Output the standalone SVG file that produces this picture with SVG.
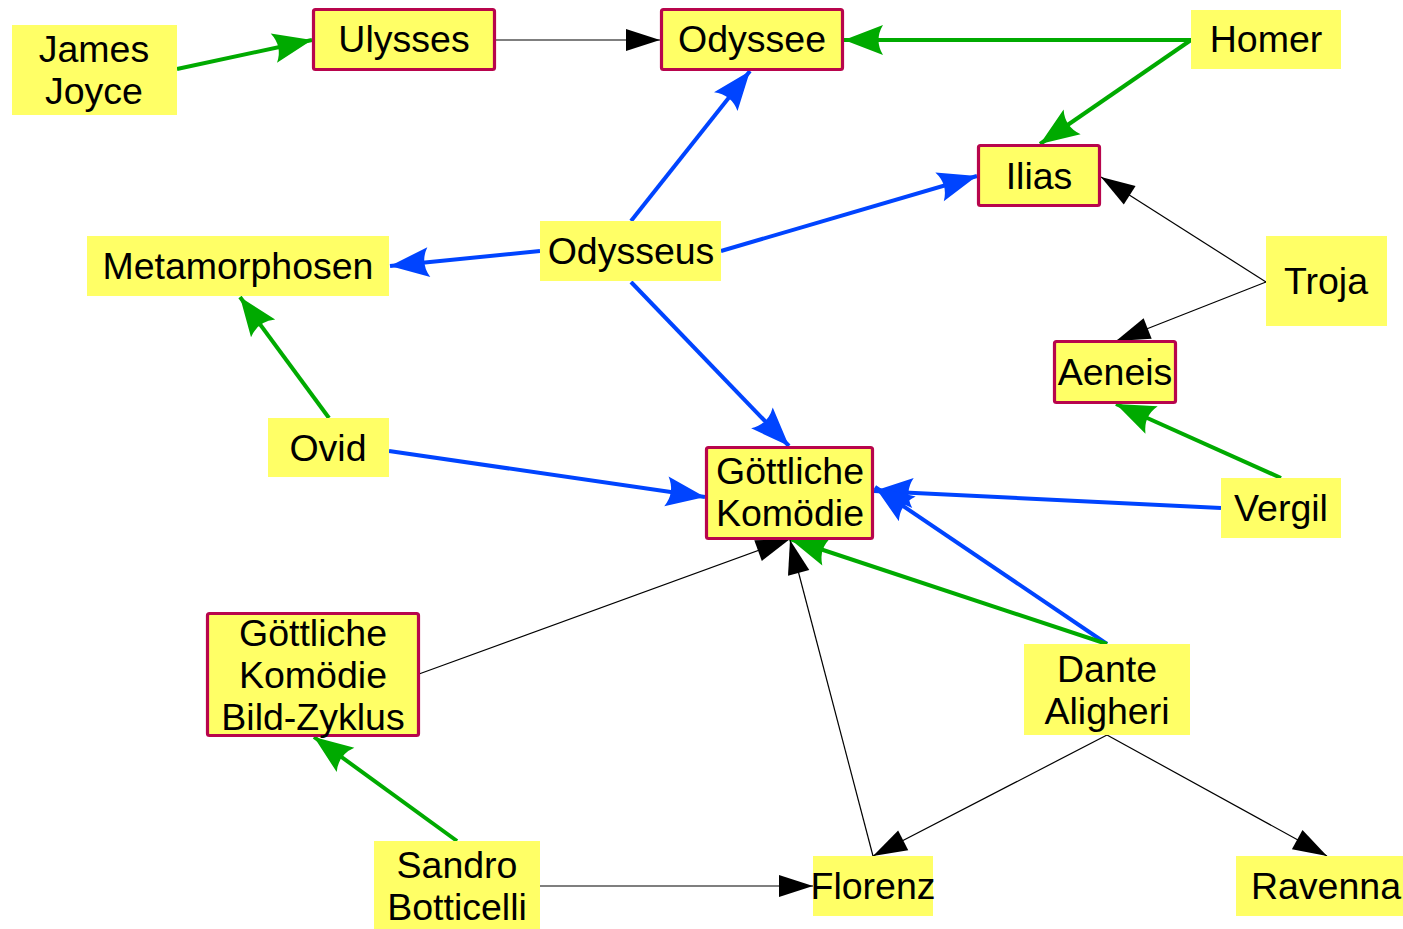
<svg xmlns="http://www.w3.org/2000/svg" width="1403" height="929" viewBox="0 0 1403 929">
  <style>
    .plain { fill: #ffff66; }
    .work { fill: #ffff66; stroke: #b8054c; stroke-width: 3.2; }
    .lbl { font-family: "Liberation Sans", Arial, sans-serif; font-size: 37.5px; fill: #000; text-anchor: middle; }
    .e-green { stroke: #00aa00; stroke-width: 4; fill: none; marker-end: url(#head-green); }
    .e-blue { stroke: #0044ff; stroke-width: 4; fill: none; marker-end: url(#head-blue); }
    .e-black { stroke: #000; stroke-width: 1.2; fill: none; marker-end: url(#head-black); }
  </style>
  <defs>
    <marker id="head-green" markerUnits="userSpaceOnUse" viewBox="-42 -17 44 34" refX="0" refY="0" markerWidth="44" markerHeight="34" orient="auto" overflow="visible">
      <path d="M0,0 L-39,-15 Q-30,0 -39,15 Z" fill="#00aa00"/>
    </marker>
    <marker id="head-blue" markerUnits="userSpaceOnUse" viewBox="-42 -17 44 34" refX="0" refY="0" markerWidth="44" markerHeight="34" orient="auto" overflow="visible">
      <path d="M0,0 L-39,-15 Q-30,0 -39,15 Z" fill="#0044ff"/>
    </marker>
    <marker id="head-black" markerUnits="userSpaceOnUse" viewBox="-36 -13 38 26" refX="0" refY="0" markerWidth="38" markerHeight="26" orient="auto" overflow="visible">
      <path d="M0,0 L-34,-11 L-34,11 Z" fill="#000"/>
    </marker>
  </defs>

  <rect width="1403" height="929" fill="#ffffff"/>

  <g id="connectors">
    <line class="e-green" x1="177" y1="69" x2="312" y2="40"/>
    <line class="e-black" x1="495" y1="40" x2="660" y2="40"/>
    <line class="e-green" x1="1191" y1="40" x2="844" y2="40"/>
    <line class="e-green" x1="1191" y1="40" x2="1040" y2="144"/>
    <line class="e-blue" x1="631" y1="221" x2="750" y2="71"/>
    <line class="e-blue" x1="721" y1="251" x2="977" y2="176"/>
    <line class="e-blue" x1="540" y1="251" x2="390" y2="266"/>
    <line class="e-blue" x1="631" y1="282" x2="789" y2="446"/>
    <line class="e-green" x1="329" y1="418" x2="240" y2="297"/>
    <line class="e-blue" x1="389" y1="451" x2="705" y2="497"/>
    <line class="e-black" x1="1266" y1="282" x2="1101" y2="177"/>
    <line class="e-black" x1="1266" y1="282" x2="1116" y2="341"/>
    <line class="e-green" x1="1281" y1="478" x2="1116" y2="404"/>
    <line class="e-blue" x1="1221" y1="508" x2="874" y2="491"/>
    <line class="e-blue" x1="1107" y1="644" x2="875" y2="487"/>
    <line class="e-green" x1="1107" y1="644" x2="790" y2="539"/>
    <line class="e-black" x1="419" y1="674" x2="790" y2="539"/>
    <line class="e-black" x1="873" y1="856" x2="790" y2="540"/>
    <line class="e-black" x1="1107" y1="735" x2="873" y2="856"/>
    <line class="e-black" x1="1107" y1="735" x2="1327" y2="856"/>
    <line class="e-green" x1="457" y1="841" x2="314" y2="737"/>
    <line class="e-black" x1="540" y1="886" x2="813" y2="886"/>
  </g>

  <g id="james-joyce">
    <rect class="plain" x="12" y="25" width="165" height="90"/>
    <text class="lbl" x="94" y="62">James</text>
    <text class="lbl" x="94" y="104">Joyce</text>
  </g>
  <g id="ulysses">
    <rect class="work" x="313.5" y="9.5" width="181" height="60" rx="2"/>
    <text class="lbl" x="404" y="52">Ulysses</text>
  </g>
  <g id="odyssee">
    <rect class="work" x="661.5" y="9.5" width="181" height="60" rx="2"/>
    <text class="lbl" x="752" y="52">Odyssee</text>
  </g>
  <g id="homer">
    <rect class="plain" x="1191" y="10" width="150" height="59"/>
    <text class="lbl" x="1266" y="52">Homer</text>
  </g>
  <g id="ilias">
    <rect class="work" x="978.5" y="145.5" width="121" height="60" rx="2"/>
    <text class="lbl" x="1039" y="189">Ilias</text>
  </g>
  <g id="odysseus">
    <rect class="plain" x="540" y="221" width="181" height="60"/>
    <text class="lbl" x="631" y="264">Odysseus</text>
  </g>
  <g id="metamorphosen">
    <rect class="plain" x="87" y="236" width="302" height="60"/>
    <text class="lbl" x="238" y="279">Metamorphosen</text>
  </g>
  <g id="troja">
    <rect class="plain" x="1266" y="236" width="121" height="90"/>
    <text class="lbl" x="1326" y="294">Troja</text>
  </g>
  <g id="aeneis">
    <rect class="work" x="1054.5" y="341.5" width="121" height="61" rx="2"/>
    <text class="lbl" x="1115" y="385">Aeneis</text>
  </g>
  <g id="ovid">
    <rect class="plain" x="268" y="418" width="121" height="59"/>
    <text class="lbl" x="328" y="461">Ovid</text>
  </g>
  <g id="goettliche-komoedie">
    <rect class="work" x="706.5" y="447.5" width="166" height="91" rx="2"/>
    <text class="lbl" x="790" y="484">Göttliche</text>
    <text class="lbl" x="790" y="526">Komödie</text>
  </g>
  <g id="vergil">
    <rect class="plain" x="1221" y="478" width="120" height="60"/>
    <text class="lbl" x="1281" y="521">Vergil</text>
  </g>
  <g id="bild-zyklus">
    <rect class="work" x="207.5" y="613.5" width="211" height="122" rx="2"/>
    <text class="lbl" x="313" y="646">Göttliche</text>
    <text class="lbl" x="313" y="688">Komödie</text>
    <text class="lbl" x="313" y="730">Bild-Zyklus</text>
  </g>
  <g id="dante-aligheri">
    <rect class="plain" x="1024" y="644" width="166" height="91"/>
    <text class="lbl" x="1107" y="682">Dante</text>
    <text class="lbl" x="1107" y="724">Aligheri</text>
  </g>
  <g id="sandro-botticelli">
    <rect class="plain" x="374" y="841" width="166" height="88"/>
    <text class="lbl" x="457" y="878">Sandro</text>
    <text class="lbl" x="457" y="920">Botticelli</text>
  </g>
  <g id="florenz">
    <rect class="plain" x="813" y="856" width="120" height="60"/>
    <text class="lbl" x="873" y="899">Florenz</text>
  </g>
  <g id="ravenna">
    <rect class="plain" x="1236" y="856" width="167" height="60"/>
    <text class="lbl" x="1326" y="899">Ravenna</text>
  </g>
</svg>
